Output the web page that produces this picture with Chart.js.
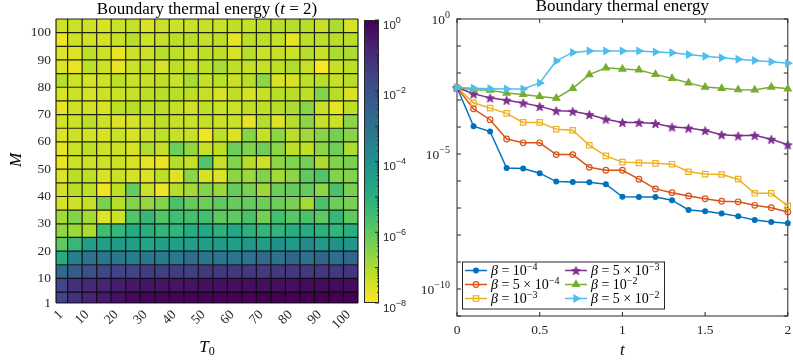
<!DOCTYPE html>
<html>
<head>
<meta charset="UTF-8">
<title>Boundary thermal energy</title>
<script src="https://cdn.jsdelivr.net/npm/chart.js"></script>
<style>
  body { margin: 0; background: #fff; }
  #wrap { position: relative; width: 793px; height: 362px; }
  canvas { position: absolute; top: 0; }
  #heat { left: 0; }
  #cbar { left: 355px; }
  #lines { left: 400px; }
</style>
</head>
<body>
<div id="wrap">
  <canvas id="heat" width="362" height="362"></canvas>
  <canvas id="cbar" width="75" height="362"></canvas>
  <canvas id="lines" width="393" height="362"></canvas>
</div>

<script>
  // ---- left panel: heat map (log10 of boundary energy at t = 2) ----
  const t0Edges = [1, 5, 10, 15, 20, 25, 30, 35, 40, 45, 50, 55, 60, 65, 70, 75, 80, 85, 90, 95, 100, 105];
  const mEdges = [1, 5, 10, 15, 20, 25, 30, 35, 40, 45, 50, 55, 60, 65, 70, 75, 80, 85, 90, 95, 100, 105];
  const t0Ticks = [1, 10, 20, 30, 40, 50, 60, 70, 80, 90, 100];
  const mTicks = [1, 10, 20, 30, 40, 50, 60, 70, 80, 90, 100];

  // rows go from M = 1 (bottom) up to M = 100 (top), columns T0 = 1 ... 100
  const log10E = [
    [-1.6, -1.1, -0.75, -0.55, -0.35, -0.15, -0.1, -0.1, -0.05, -0.05, -0.05, -0.05, -0.05, -0.05, 0, 0, 0, 0, 0, 0, 0],
    [-1.7, -1.1, -0.9, -0.8, -0.6, -0.5, -0.45, -0.45, -0.4, -0.4, -0.35, -0.35, -0.35, -0.3, -0.3, -0.3, -0.3, -0.25, -0.25, -0.25, -0.25],
    [-2.7, -2.3, -1.9, -1.7, -1.6, -1.6, -1.4, -1.5, -1.4, -1.5, -1.3, -1.3, -1.3, -1.3, -1.3, -1.3, -1.25, -1.3, -1.25, -1.3, -1.2],
    [-4.9, -3.5, -3.0, -3.1, -3.2, -3.4, -3.2, -3.3, -3.2, -2.8, -3.1, -3.1, -3.1, -3.0, -2.7, -3.0, -2.6, -3.0, -2.6, -2.9, -2.6],
    [-6.0, -5.3, -4.4, -4.4, -4.3, -4.4, -4.7, -4.5, -4.4, -4.5, -4.4, -4.3, -4.4, -4.2, -4.4, -4.0, -4.3, -3.8, -4.3, -4.0, -4.2],
    [-6.7, -6.8, -7.0, -5.5, -5.3, -4.9, -5.0, -5.2, -5.2, -4.9, -4.8, -5.1, -4.8, -5.1, -5.2, -5.2, -5.0, -4.9, -5.1, -5.2, -5.0],
    [-6.9, -6.5, -6.9, -7.6, -7.4, -5.8, -5.3, -5.8, -5.5, -5.6, -5.6, -6.0, -6.0, -5.7, -6.3, -5.6, -5.9, -5.7, -6.0, -5.3, -6.0],
    [-7.5, -7.4, -7.3, -6.4, -7.1, -6.5, -6.7, -6.5, -5.7, -6.1, -6.2, -6.0, -6.1, -6.1, -6.2, -6.2, -6.4, -6.9, -5.7, -6.2, -6.4],
    [-7.45, -7.15, -7.2, -7.8, -7.2, -6.1, -7.35, -7.8, -7.1, -6.9, -6.5, -6.8, -6.1, -6.4, -6.8, -6.2, -6.1, -6.1, -6.6, -5.7, -6.4],
    [-7.6, -7.15, -7.2, -7.55, -7.35, -7.5, -7.55, -7.2, -7.6, -6.6, -7.5, -7.6, -6.6, -6.8, -6.5, -6.9, -6.6, -6.0, -5.8, -6.5, -6.5],
    [-7.75, -7.35, -7.4, -7.4, -7.35, -7.55, -7.7, -7.75, -7.1, -7.3, -5.8, -7.3, -6.5, -7.1, -7.4, -6.6, -6.5, -6.3, -7.0, -6.5, -6.4],
    [-7.7, -7.35, -7.2, -7.4, -7.35, -7.5, -7.05, -7.3, -6.2, -6.7, -7.3, -7.2, -6.2, -6.5, -6.25, -6.6, -7.2, -7.2, -6.6, -6.25, -7.0],
    [-7.6, -7.4, -7.45, -7.55, -7.35, -7.5, -7.4, -7.2, -7.3, -7.35, -7.8, -7.2, -7.55, -6.55, -7.3, -6.6, -7.15, -6.85, -6.55, -6.3, -6.55],
    [-7.45, -7.4, -7.2, -7.4, -7.6, -7.5, -7.4, -7.2, -7.3, -7.35, -7.3, -7.4, -7.35, -7.7, -7.1, -7.6, -7.1, -6.6, -7.3, -7.35, -6.6],
    [-7.75, -7.4, -7.45, -7.55, -7.2, -7.15, -7.2, -7.2, -7.3, -7.45, -7.2, -7.35, -7.35, -7.2, -7.2, -7.15, -7.0, -6.55, -7.3, -7.7, -7.2],
    [-7.55, -7.35, -7.5, -7.4, -7.35, -7.3, -7.2, -7.15, -7.15, -7.2, -7.3, -7.55, -7.2, -7.5, -7.3, -7.15, -7.15, -7.2, -6.5, -7.15, -7.55],
    [-7.1, -7.4, -7.5, -7.4, -7.2, -7.35, -7.3, -7.2, -7.35, -6.95, -7.3, -7.2, -7.35, -7.15, -6.6, -7.55, -7.5, -7.2, -7.15, -7.3, -7.15],
    [-7.6, -7.75, -7.2, -7.4, -7.75, -7.35, -7.25, -7.5, -7.2, -7.3, -7.2, -6.95, -7.2, -7.3, -7.3, -7.2, -7.05, -7.3, -7.95, -7.3, -7.2],
    [-7.6, -7.6, -7.2, -7.4, -7.75, -7.4, -7.35, -7.15, -7.2, -7.35, -7.2, -7.2, -7.5, -7.15, -7.35, -7.3, -7.35, -7.15, -7.3, -7.0, -7.0],
    [-7.8, -7.4, -7.45, -7.5, -7.35, -7.15, -7.4, -7.3, -7.2, -7.15, -7.3, -7.2, -7.7, -7.2, -7.2, -7.3, -7.7, -7.2, -7.2, -7.15, -7.15],
    [-7.4, -7.35, -7.4, -7.55, -7.35, -7.3, -7.55, -7.35, -7.4, -7.35, -7.3, -7.35, -7.2, -7.3, -7.2, -7.15, -7.1, -7.15, -7.3, -7.0, -7.55]
  ];

  const cbarExps = [0, -2, -4, -6, -8];

  // ---- right panel: boundary thermal energy vs time ----
  const tVals = [0, 0.1, 0.2, 0.3, 0.4, 0.5, 0.6, 0.7, 0.8, 0.9, 1.0, 1.1, 1.2, 1.3, 1.4, 1.5, 1.6, 1.7, 1.8, 1.9, 2.0];
  const tTicks = [0, 0.5, 1, 1.5, 2];
  const yTickExps = [0, -1, -2, -3, -4, -5, -6, -7, -8, -9, -10, -11];
  const yLabelExps = [0, -5, -10];

  const betaMant = [1, 5, 1, 5, 1, 5];
  const betaExp = [-4, -4, -3, -3, -2, -2];

  const energyB1 = [2.9e-3, 1.07e-4, 6.8e-5, 3.0e-6, 2.9e-6, 1.95e-6, 9.5e-7, 9.1e-7, 8.9e-7, 7.6e-7, 2.6e-7, 2.57e-7, 2.55e-7, 1.95e-7, 8.5e-8, 7.6e-8, 6.3e-8, 4.9e-8, 3.6e-8, 3.0e-8, 2.75e-8];
  const energyB2 = [2.9e-3, 4.7e-4, 1.86e-4, 3.6e-5, 2.6e-5, 2.6e-5, 9.5e-6, 9.5e-6, 3.2e-6, 2.5e-6, 2.5e-6, 1.17e-6, 5.1e-7, 3.7e-7, 2.8e-7, 2.2e-7, 1.78e-7, 1.7e-7, 1.26e-7, 1.02e-7, 7.1e-8];
  const energyB3 = [2.9e-3, 7.9e-4, 5.0e-4, 3.2e-4, 1.48e-4, 1.48e-4, 8.3e-5, 7.6e-5, 2.1e-5, 8.5e-6, 5.0e-6, 4.7e-6, 4.5e-6, 4.2e-6, 2.2e-6, 1.8e-6, 1.74e-6, 1.17e-6, 3.5e-7, 3.5e-7, 1.2e-7];
  const energyB4 = [2.9e-3, 1.7e-3, 1.2e-3, 9.8e-4, 7.8e-4, 5.8e-4, 4.0e-4, 3.8e-4, 2.9e-4, 1.95e-4, 1.48e-4, 1.48e-4, 1.35e-4, 1.0e-4, 9.1e-5, 7.4e-5, 5.2e-5, 4.7e-5, 4.9e-5, 3.5e-5, 2.2e-5];
  const energyB5 = [2.9e-3, 2.4e-3, 2.3e-3, 1.8e-3, 1.6e-3, 1.35e-3, 1.17e-3, 2.7e-3, 8.7e-3, 1.55e-2, 1.4e-2, 1.3e-2, 8.9e-3, 6.3e-3, 4.3e-3, 3.0e-3, 2.7e-3, 2.4e-3, 2.35e-3, 3.0e-3, 2.6e-3];
  const energyB6 = [2.9e-3, 2.7e-3, 2.6e-3, 2.55e-3, 2.55e-3, 4.3e-3, 2.8e-2, 5.8e-2, 6.5e-2, 6.5e-2, 6.5e-2, 6.5e-2, 6.0e-2, 5.6e-2, 4.8e-2, 4.2e-2, 3.7e-2, 3.2e-2, 2.9e-2, 2.6e-2, 2.3e-2];

  const SERIF = "'Liberation Serif', 'DejaVu Serif', serif";
  const SANS = "'Liberation Sans', Arial, sans-serif";
  const AXIS = '#262626';
  const MINUS = '\u2212';

  // viridis, purple (10^0) to yellow (10^-8)
  const viridisStops = ['#440154', '#482475', '#414487', '#355f8d', '#2a788e', '#21918c', '#22a884', '#44bf70', '#7ad151', '#bddf26', '#fde725'];

  function hexRgb(h) {
    return [parseInt(h.slice(1, 3), 16), parseInt(h.slice(3, 5), 16), parseInt(h.slice(5, 7), 16)];
  }

  function colourFor(lv) {
    let p = Math.min(Math.max(-lv / 8, 0), 1) * (viridisStops.length - 1);
    let k = Math.min(Math.floor(p), viridisStops.length - 2);
    let f = p - k;
    let a = hexRgb(viridisStops[k]), b = hexRgb(viridisStops[k + 1]);
    let c = a.map((v, n) => Math.round(v + (b[n] - v) * f));
    return 'rgb(' + c.join(',') + ')';
  }

  // text made of pieces (italic letters, superscripts)
  function drawRich(ctx, x, y, parts, align) {
    let w = 0;
    parts.forEach(p => { ctx.font = p.font; w += ctx.measureText(p.t).width; });
    let cx = align === 'center' ? x - w / 2 : (align === 'right' ? x - w : x);
    ctx.textBaseline = 'alphabetic';
    ctx.textAlign = 'left';
    parts.forEach(p => {
      ctx.font = p.font;
      ctx.fillText(p.t, cx, y + (p.dy || 0));
      cx += ctx.measureText(p.t).width;
    });
  }

  function powParts(e, size, supSize, family, raise) {
    let s = String(e).replace('-', MINUS);
    return [
      { t: '10', font: size + 'px ' + family },
      { t: s, font: supSize + 'px ' + family, dy: -raise }
    ];
  }

  // ---------------- heat map ----------------
  const cells = [];
  log10E.forEach((row, i) => {
    row.forEach((v, j) => {
      cells.push({ x: (t0Edges[j] + t0Edges[j + 1]) / 2, y: (mEdges[i] + mEdges[i + 1]) / 2, i: i, j: j, v: v });
    });
  });

  const heatPlugin = {
    id: 'heatCells',
    beforeDatasetsDraw(chart) {
      const { ctx, scales: { x, y } } = chart;
      ctx.save();
      chart.data.datasets[0].data.forEach(c => {
        const x0 = x.getPixelForValue(t0Edges[c.j]), x1 = x.getPixelForValue(t0Edges[c.j + 1]);
        const y0 = y.getPixelForValue(mEdges[c.i]), y1 = y.getPixelForValue(mEdges[c.i + 1]);
        ctx.fillStyle = colourFor(c.v);
        ctx.fillRect(x0, y1, x1 - x0, y0 - y1);
      });
      ctx.strokeStyle = 'rgba(0,0,0,0.85)';
      ctx.lineWidth = 1.2;
      ctx.beginPath();
      t0Edges.forEach(e => {
        const px = x.getPixelForValue(e);
        ctx.moveTo(px, y.top); ctx.lineTo(px, y.bottom);
      });
      mEdges.forEach(e => {
        const py = y.getPixelForValue(e);
        ctx.moveTo(x.left, py); ctx.lineTo(x.right, py);
      });
      ctx.stroke();
      ctx.restore();
    },
    afterDraw(chart) {
      const { ctx, chartArea } = chart;
      ctx.save();
      ctx.fillStyle = '#000';
      const cx = (chartArea.left + chartArea.right) / 2;
      drawRich(ctx, cx, 13.5, [
        { t: 'Boundary thermal energy (', font: '17px ' + SERIF },
        { t: 't', font: 'italic 17px ' + SERIF },
        { t: ' = 2)', font: '17px ' + SERIF }
      ], 'center');
      drawRich(ctx, cx, 352, [
        { t: 'T', font: 'italic 17px ' + SERIF },
        { t: '0', font: '12px ' + SERIF, dy: 3 }
      ], 'center');
      ctx.translate(21, 160);
      ctx.rotate(-Math.PI / 2);
      drawRich(ctx, 0, 0, [{ t: 'M', font: 'italic 17px ' + SERIF }], 'center');
      ctx.restore();
    }
  };

  new Chart(document.getElementById('heat'), {
    type: 'scatter',
    data: { datasets: [{ data: cells, pointRadius: 0, pointHoverRadius: 0 }] },
    options: {
      responsive: false,
      animation: false,
      layout: { padding: { top: 19, right: 4, left: 0, bottom: 0 } },
      plugins: { legend: { display: false }, tooltip: { enabled: false } },
      scales: {
        x: {
          type: 'linear', min: 1, max: 105,
          afterBuildTicks: s => { s.ticks = t0Ticks.map(v => ({ value: v })); },
          afterFit: s => { s.height = 59; s.paddingLeft = 0; s.paddingRight = 0; },
          grid: { display: false, drawTicks: false },
          border: { display: false },
          ticks: { minRotation: 45, maxRotation: 45, padding: 4, labelOffset: 5, color: AXIS, font: { family: SERIF, size: 13.5 } }
        },
        y: {
          type: 'linear', min: 1, max: 105,
          afterBuildTicks: s => { s.ticks = mTicks.map(v => ({ value: v })); },
          afterFit: s => { s.width = 56; },
          grid: { display: false, drawTicks: false },
          border: { display: false },
          ticks: { padding: 5, color: AXIS, font: { family: SERIF, size: 13.5 } }
        }
      }
    },
    plugins: [heatPlugin]
  });

  // ---------------- colour bar ----------------
  const cbarPlugin = {
    id: 'cbarDraw',
    afterDraw(chart) {
      const { ctx, chartArea: a, scales: { y } } = chart;
      ctx.save();
      const g = ctx.createLinearGradient(0, y.getPixelForValue(1), 0, y.getPixelForValue(1e-8));
      viridisStops.forEach((c, n) => g.addColorStop(n / (viridisStops.length - 1), c));
      ctx.fillStyle = g;
      ctx.fillRect(a.left, a.top, a.right - a.left, a.bottom - a.top);
      ctx.strokeStyle = AXIS;
      ctx.lineWidth = 1;
      ctx.strokeRect(a.left + 0.5, a.top + 0.5, a.right - a.left - 1, a.bottom - a.top - 1);
      ctx.beginPath();
      for (let d = -8; d <= 0; d++) {
        const py = y.getPixelForValue(Math.pow(10, d));
        ctx.moveTo(a.right, py); ctx.lineTo(a.right - 4, py);
        if (d < 0) {
          for (let k = 2; k <= 9; k++) {
            const pm = y.getPixelForValue(k * Math.pow(10, d));
            ctx.moveTo(a.right, pm); ctx.lineTo(a.right - 2, pm);
          }
        }
      }
      ctx.stroke();
      ctx.fillStyle = AXIS;
      cbarExps.forEach(e => {
        const py = y.getPixelForValue(Math.pow(10, e));
        drawRich(ctx, a.right + 4, py + 8.5, powParts(e, 11.5, 9, SANS, 6), 'left');
      });
      ctx.restore();
    }
  };

  new Chart(document.getElementById('cbar'), {
    type: 'scatter',
    data: { datasets: [] },
    options: {
      responsive: false,
      animation: false,
      layout: { padding: { left: 9, top: 20, bottom: 59, right: 0 } },
      plugins: { legend: { display: false }, tooltip: { enabled: false } },
      scales: {
        x: { display: false },
        y: {
          type: 'logarithmic', position: 'right', min: 1e-8, max: 1,
          afterFit: s => { s.width = 51; },
          grid: { display: false, drawTicks: false },
          border: { display: false },
          ticks: { display: false }
        }
      }
    },
    plugins: [cbarPlugin]
  });

  // ---------------- line plot ----------------
  function starImage(color, r) {
    const c = document.createElement('canvas');
    const s = Math.ceil(r * 2 + 3);
    c.width = s; c.height = s;
    const g = c.getContext('2d');
    g.beginPath();
    for (let k = 0; k < 10; k++) {
      const rr = k % 2 === 0 ? r : r * 0.42;
      const ang = -Math.PI / 2 + k * Math.PI / 5;
      g.lineTo(s / 2 + rr * Math.cos(ang), s / 2 + 0.6 + rr * Math.sin(ang));
    }
    g.closePath();
    g.fillStyle = color; g.fill();
    g.strokeStyle = color; g.lineWidth = 1; g.stroke();
    return c;
  }

  const colors = ['#0072BD', '#D95319', '#EDB120', '#7E2F8E', '#77AC30', '#4DBEEE'];
  const seriesValues = [energyB1, energyB2, energyB3, energyB4, energyB5, energyB6];
  const markers = [
    { style: 'circle', r: 2.4, fill: true, rot: 0 },
    { style: 'circle', r: 2.8, fill: false, rot: 0 },
    { style: 'rect', r: 3.8, fill: false, rot: 0 },
    { style: starImage(colors[3], 4.6), r: 4, fill: true, rot: 0 },
    { style: 'triangle', r: 4, fill: true, rot: 0 },
    { style: 'triangle', r: 4, fill: true, rot: 90 }
  ];

  const datasets = seriesValues.map((vals, k) => ({
    data: vals.map((v, n) => ({ x: tVals[n], y: v })),
    borderColor: colors[k],
    borderWidth: 1.5,
    pointStyle: markers[k].style,
    pointRadius: markers[k].r,
    pointRotation: markers[k].rot,
    pointBorderColor: colors[k],
    pointBackgroundColor: markers[k].fill ? colors[k] : 'rgba(0,0,0,0)',
    pointBorderWidth: 1.2,
    pointHoverRadius: markers[k].r,
    tension: 0,
    fill: false,
    clip: false,
    order: 6 - k
  }));

  function legendMarker(ctx, k, x, y) {
    const m = markers[k];
    ctx.save();
    ctx.strokeStyle = colors[k];
    ctx.fillStyle = colors[k];
    ctx.lineWidth = 1.2;
    if (typeof m.style !== 'string') {
      ctx.drawImage(m.style, x - m.style.width / 2, y - m.style.height / 2);
    } else if (m.style === 'circle') {
      ctx.beginPath(); ctx.arc(x, y, m.r, 0, Math.PI * 2);
      if (m.fill) ctx.fill();
      ctx.stroke();
    } else if (m.style === 'rect') {
      const h = m.r * Math.SQRT1_2;
      ctx.strokeRect(x - h, y - h, 2 * h, 2 * h);
    } else {
      ctx.translate(x, y);
      ctx.rotate(m.rot * Math.PI / 180);
      ctx.beginPath();
      for (let q = 0; q < 3; q++) {
        const ang = -Math.PI / 2 + q * 2 * Math.PI / 3;
        ctx.lineTo(m.r * Math.cos(ang), m.r * Math.sin(ang));
      }
      ctx.closePath(); ctx.fill(); ctx.stroke();
    }
    ctx.restore();
  }

  const linePlugin = {
    id: 'lineFrame',
    beforeDatasetsDraw(chart) {
      const { ctx, chartArea: a, scales: { x, y } } = chart;
      ctx.save();
      ctx.strokeStyle = AXIS;
      ctx.lineWidth = 1;
      ctx.strokeRect(a.left, a.top, a.right - a.left, a.bottom - a.top);
      ctx.beginPath();
      tTicks.forEach(v => {
        const px = x.getPixelForValue(v);
        ctx.moveTo(px, a.bottom); ctx.lineTo(px, a.bottom - 4);
        ctx.moveTo(px, a.top); ctx.lineTo(px, a.top + 4);
      });
      yTickExps.forEach(e => {
        const py = y.getPixelForValue(Math.pow(10, e));
        ctx.moveTo(a.left, py); ctx.lineTo(a.left + 4, py);
        ctx.moveTo(a.right, py); ctx.lineTo(a.right - 4, py);
      });
      ctx.stroke();
      ctx.restore();
    },
    afterDatasetsDraw(chart) {
      const { ctx } = chart;
      ctx.save();
      // legend box
      const bx = 62, by = 261.5, bw = 202, bh = 47;
      ctx.fillStyle = '#fff';
      ctx.fillRect(bx, by, bw, bh);
      ctx.strokeStyle = AXIS;
      ctx.lineWidth = 1;
      ctx.strokeRect(bx + 0.5, by + 0.5, bw, bh);
      const colX = [65, 165];
      const rowY = [270.5, 284.5, 298.5];
      colors.forEach((c, k) => {
        const lx = colX[Math.floor(k / 3)];
        const ly = rowY[k % 3];
        ctx.strokeStyle = c;
        ctx.lineWidth = 1.5;
        ctx.beginPath(); ctx.moveTo(lx, ly); ctx.lineTo(lx + 22, ly); ctx.stroke();
        legendMarker(ctx, k, lx + 11, ly);
        const parts = [
          { t: '\u03b2', font: 'italic 14px ' + SERIF },
          { t: ' = ' + (betaMant[k] !== 1 ? betaMant[k] + ' \u00d7 ' : ''), font: '14px ' + SERIF }
        ].concat(powParts(betaExp[k], 14, 10, SERIF, 5.5));
        ctx.fillStyle = '#000';
        drawRich(ctx, lx + 26, ly + 4.5, parts, 'left');
      });
      ctx.restore();
    },
    afterDraw(chart) {
      const { ctx, chartArea: a, scales: { y } } = chart;
      ctx.save();
      ctx.fillStyle = AXIS;
      yLabelExps.forEach(e => {
        const py = y.getPixelForValue(Math.pow(10, e));
        drawRich(ctx, a.left - 7, py + 4.5, powParts(e, 13.5, 10, SERIF, 5.5), 'right');
      });
      ctx.fillStyle = '#000';
      const cx = (a.left + a.right) / 2;
      drawRich(ctx, cx, 11, [{ t: 'Boundary thermal energy', font: '17px ' + SERIF }], 'center');
      drawRich(ctx, cx, 355, [{ t: 't', font: 'italic 17px ' + SERIF }], 'center');
      ctx.restore();
    }
  };

  new Chart(document.getElementById('lines'), {
    type: 'line',
    data: { datasets: datasets },
    options: {
      responsive: false,
      animation: false,
      layout: { padding: { top: 19, right: 2, left: 0, bottom: 0 } },
      plugins: { legend: { display: false }, tooltip: { enabled: false } },
      scales: {
        x: {
          type: 'linear', min: 0, max: 2,
          afterBuildTicks: s => { s.ticks = tTicks.map(v => ({ value: v })); },
          afterFit: s => { s.height = 46; s.paddingLeft = 0; s.paddingRight = 0; },
          grid: { display: false, drawTicks: false },
          border: { display: false },
          ticks: { padding: 6, maxRotation: 0, color: AXIS, font: { family: SERIF, size: 13.5 }, callback: v => String(v) }
        },
        y: {
          type: 'logarithmic', min: 1e-11, max: 1,
          afterBuildTicks: s => { s.ticks = yTickExps.map(e => ({ value: Math.pow(10, e) })); },
          afterFit: s => { s.width = 57; },
          grid: { display: false, drawTicks: false },
          border: { display: false },
          ticks: { display: false }
        }
      }
    },
    plugins: [linePlugin]
  });
</script>
</body>
</html>
